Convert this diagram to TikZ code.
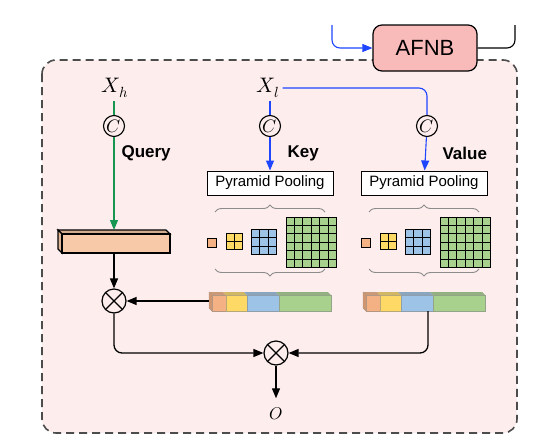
\documentclass[tikz,border=0pt]{standalone}
\usepackage{amsmath}
\usepackage{unicode-math}
\setmainfont{Liberation Sans}
\setmathfont{Latin Modern Math}
\usetikzlibrary{arrows.meta,positioning,decorations.pathreplacing}

\definecolor{bgpink}{RGB}{253,237,237}
\definecolor{afnbpink}{RGB}{249,186,186}
\definecolor{peach}{RGB}{248,201,168}
\definecolor{cOrange}{RGB}{244,177,131}
\definecolor{cYellow}{RGB}{255,217,102}
\definecolor{cBlue}{RGB}{157,195,230}
\definecolor{cGreen}{RGB}{169,209,142}
\definecolor{qgreen}{RGB}{22,150,80}
\definecolor{kblue}{RGB}{30,70,255}

% n x n cells of size #4, top left corner at (#1,#2)
\newcommand{\poolgrid}[5]{%
  \foreach \i in {1,...,#3} \foreach \j in {1,...,#3}
    \draw[fill=#5, line width=1pt] ({#1+(\i-1)*#4},{#2+(\j-1)*#4}) rectangle ++(#4,#4);}

% the four pooled maps and their braces
\newcommand{\poolgroup}[1]{%
  \poolgrid{#1}{238}{1}{9}{cOrange}
  \poolgrid{#1+19}{233}{2}{8}{cYellow}
  \poolgrid{#1+44}{229}{3}{8.5}{cBlue}
  \poolgrid{#1+79}{217}{6}{8.4}{cGreen}
  \draw[brace] (#1+8,212) -- (#1+118,212);
  \draw[brace] (#1+118,269) -- (#1+8,269);}

% flattened feature bar, left end at #1
\newcommand{\featbar}[1]{%
  \foreach \a/\b/\c in {0/14/cOrange,14/35/cYellow,35/67/cBlue,67/119/cGreen}{
    \fill[\c!80!black!90] (#1+\a,292) -- (#1+\b,292) -- (#1+\b+3,295) -- (#1+\a+3,295) -- cycle;
    \draw[\c!60!black!70, fill=\c] (#1+\a+3,295) rectangle (#1+\b+3,311);}
  \draw[cOrange!60!black!70, fill=cOrange!85!black] (#1,292) -- (#1+3,295) -- (#1+3,311) -- (#1,308) -- cycle;}

\begin{document}
\begin{tikzpicture}[x=1pt, y=-1pt,
    line/.style={line width=1.3pt},
    arrow/.style={line, -{Triangle[length=10pt,width=8pt]}},
    qline/.style={line width=1.1pt, qgreen},
    kline/.style={line width=1.1pt, kblue},
    cnode/.style={circle, draw, line width=1.1pt, minimum size=21pt, inner sep=0pt, font=\fontsize{18}{18}\selectfont},
    mult/.style={circle, draw, line width=1.2pt, minimum size=24pt, inner sep=0pt,
      path picture={\draw[line width=1.2pt] (path picture bounding box.south west) -- (path picture bounding box.north east)
        (path picture bounding box.north west) -- (path picture bounding box.south east);}},
    pool/.style={draw, line width=1pt, fill=white, minimum width=126pt, minimum height=24pt, inner sep=0pt, font=\fontsize{15}{18}\selectfont},
    lbl/.style={anchor=west, font=\fontsize{17}{20}\selectfont\bfseries},
    brace/.style={decorate, decoration={brace, amplitude=7pt}, black!45, line width=0.9pt},
    afnbbox/.style={draw, line width=1.2pt, fill=afnbpink, rounded corners=9pt, minimum width=104pt, minimum height=46pt, font=\fontsize{22}{24}\selectfont}]
  \useasboundingbox (0,0) rectangle (538,442);
  % module frame
  \draw[fill=bgpink, draw=black!70, line width=1.6pt, dash pattern=on 8pt off 5pt, rounded corners=14pt] (42,60) rectangle (517,433);

  % block above
  \node[afnbbox] (afnb) at (425,48) {AFNB};
  \coordinate (afin) at (332,25);
  \coordinate (afout) at (515,25);
  \draw[kline, -{Triangle[length=10pt,width=8pt]}, rounded corners=8pt] (afin) |- (afnb.west);
  \draw[line, line width=1.1pt, rounded corners=8pt] (afnb.east) -| (afout);

  % inputs
  \node[font=\fontsize{21}{21}\selectfont] (Xh) at (115,88) {$X_h$};
  \node[font=\fontsize{21}{21}\selectfont] (Xl) at (268,88) {$X_l$};
  \node[cnode] (ch) at (114,126) {$C$};
  \node[cnode] (ck) at (270,126) {$C$};
  \node[cnode] (cv) at (427,126) {$C$};
  \node[lbl] (qlab) at (118,153) {Query};
  \node[lbl] (klab) at (284,153) {Key};
  \node[lbl] (vlab) at (439,153) {Value};
  \node[pool] (ppk) at (270,183) {Pyramid Pooling};
  \node[pool] (ppv) at (424,183) {Pyramid Pooling};

  % query bar
  \coordinate (qtop) at (114,230);
  \coordinate (qbot) at (114,253);
  \draw[line, line width=1.1pt, fill=peach!85!black] (58,230) -- (166,230) -- (170,234) -- (62,234) -- cycle;
  \draw[line, line width=1.1pt, fill=peach!90!black] (58,230) -- (62,234) -- (62,253) -- (58,249) -- cycle;
  \draw[line, line width=1.1pt, fill=peach] (62,234) rectangle (170,253);

  \poolgroup{207}
  \poolgroup{361}
  \featbar{209}
  \featbar{363}
  \coordinate (kbar) at (209,301);
  \coordinate (vbar) at (428,311);

  \node[mult] (m1) at (114,301) {};
  \node[mult] (m2) at (276,353) {};
  \node[font=\fontsize{17}{17}\selectfont] (out) at (276,414) {$O$};

  % connectors
  \draw[qline] (ch |- Xh.south) -- (ch);
  \draw[qline, -{Triangle[length=10pt,width=8pt]}] (ch) -- (qtop);
  \draw[kline] (ck |- Xl.south) -- (ck);
  \draw[kline, -{Triangle[length=10pt,width=8pt]}] (ck) -- (ppk);
  \draw[kline, rounded corners=8pt] (Xl.east) -| (cv);
  \draw[kline, -{Triangle[length=10pt,width=8pt]}] (cv) -- (ppv);
  \draw[arrow] (qbot) -- (m1);
  \draw[arrow] (kbar) -- (m1);
  \draw[arrow, rounded corners=8pt] (m1) |- (m2);
  \draw[arrow, rounded corners=8pt] (vbar) |- (m2);
  \draw[arrow, shorten >=6pt] (m2) -- (out);
\end{tikzpicture}
\end{document}
